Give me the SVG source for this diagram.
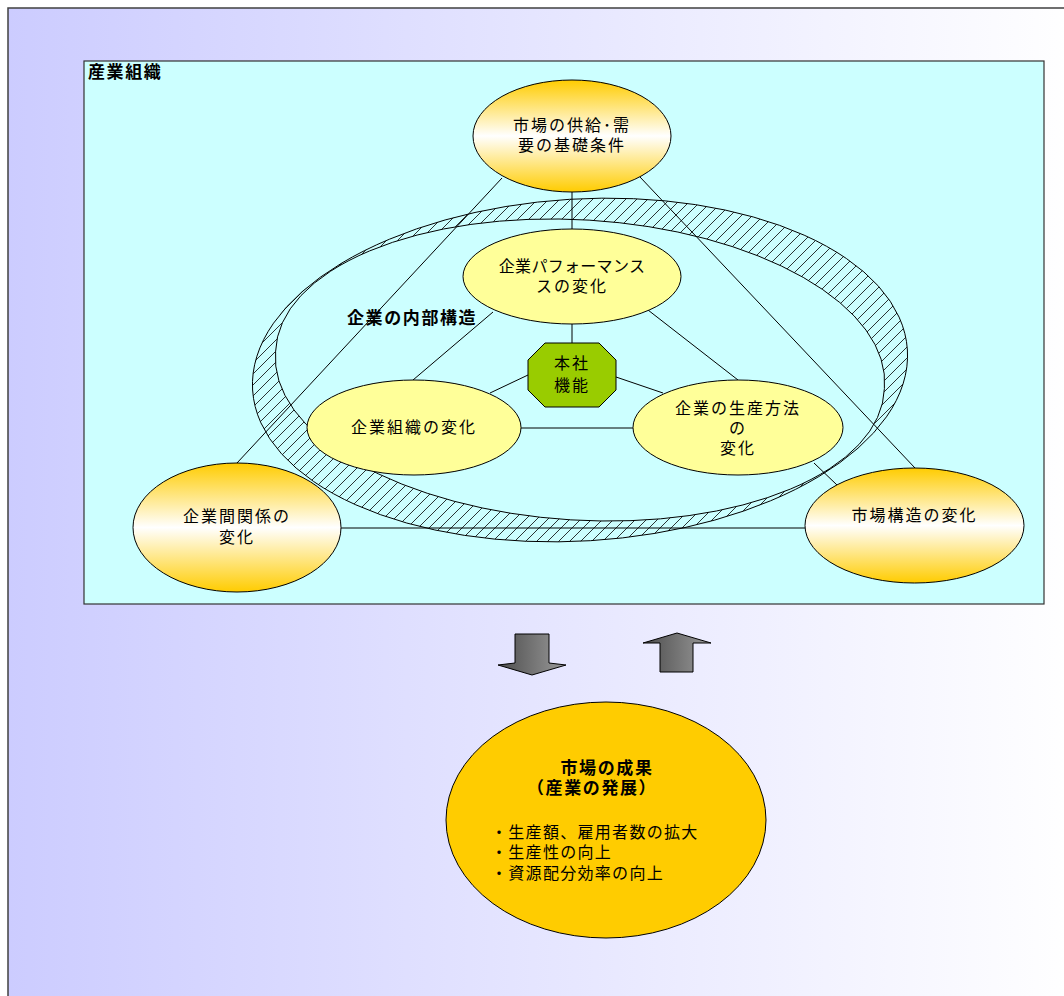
<svg xmlns="http://www.w3.org/2000/svg" width="1064" height="996" viewBox="0 0 1064 996">
<defs>
<linearGradient id="bg" x1="0" y1="0" x2="1" y2="0">
<stop offset="0" stop-color="#ccccff"/>
<stop offset="1" stop-color="#ffffff"/>
</linearGradient>
<linearGradient id="gold" x1="0" y1="0" x2="0" y2="1">
<stop offset="0" stop-color="#ffcc00"/>
<stop offset="0.5" stop-color="#ffffff"/>
<stop offset="1" stop-color="#ffcc00"/>
</linearGradient>
<linearGradient id="gray" x1="0" y1="0" x2="1" y2="0">
<stop offset="0" stop-color="#4d4d4d"/>
<stop offset="1" stop-color="#9a9a9a"/>
</linearGradient>
<pattern id="hatch" patternUnits="userSpaceOnUse" width="11" height="11">
<path d="M-2,2 L2,-2 M0,11 L11,0 M9,13 L13,9" stroke="#000" stroke-width="0.8"/>
</pattern>
</defs>
<style>
.t{font-family:"Noto Sans CJK JP","Noto Sans CJK SC",sans-serif;font-size:16px;fill:#000;text-anchor:middle;letter-spacing:2px}
.b{font-family:"Noto Sans CJK JP","Noto Sans CJK SC",sans-serif;font-size:17px;font-weight:bold;fill:#000;letter-spacing:1.6px}
.s{font-family:"Noto Sans CJK JP","Noto Sans CJK SC",sans-serif;font-size:16px;fill:#000;letter-spacing:1.3px}
.ln{stroke:#000;stroke-width:1;fill:none}
.gold{fill:url(#gold);stroke:#000;stroke-width:1}
.yel{fill:#ffff99;stroke:#000;stroke-width:1}
.arr{fill:url(#gray);stroke:#000;stroke-width:1}
</style>
<rect x="8" y="8" width="1070" height="1000" fill="url(#bg)" stroke="#404040" stroke-width="1.5"/>
<g id="industry-box">
<rect x="84" y="61" width="960" height="543" fill="#ccffff" stroke="#333" stroke-width="1.2"/>
<text class="b" x="88" y="78">産業組織</text>
</g>
<g id="connectors">
<line class="ln" x1="502" y1="178" x2="237" y2="463"/>
<line class="ln" x1="640" y1="177" x2="915" y2="468"/>
<line class="ln" x1="340" y1="528" x2="805" y2="528"/>
<line class="ln" x1="572" y1="192" x2="572" y2="229"/>
<line class="ln" x1="572" y1="324" x2="572" y2="343"/>
<line class="ln" x1="528" y1="375" x2="490" y2="393"/>
<line class="ln" x1="616" y1="377" x2="663" y2="393"/>
<line class="ln" x1="521" y1="428" x2="633" y2="428"/>
<line class="ln" x1="493" y1="312" x2="413" y2="380"/>
<line class="ln" x1="648" y1="310" x2="738" y2="380"/>
<line class="ln" x1="814" y1="463" x2="837" y2="485"/>
</g>
<g id="inner-structure">
<path fill="url(#hatch)" fill-rule="evenodd" stroke="#000" stroke-width="1" d="M907.4,350 A328,171 -3.5 1 1 252.6,390 A328,171 -3.5 1 1 907.4,350 Z M884.4,388.6 A305,148 3.5 1 1 275.6,351.4 A305,148 3.5 1 1 884.4,388.6 Z"/>
<text class="b" x="347" y="324">企業の内部構造</text>
</g>
<g id="node-supply-demand">
<ellipse class="gold" cx="572" cy="136" rx="99" ry="56"/>
<text class="t" x="572" y="131">市場の供給･需<tspan x="572" dy="20">要の基礎条件</tspan></text>
</g>
<g id="node-performance">
<ellipse class="yel" cx="572" cy="276.5" rx="109" ry="47.5"/>
<text class="t" x="572" y="272"><tspan style="letter-spacing:0.3px">企業パフォーマンス</tspan><tspan x="572" dy="20">スの変化</tspan></text>
</g>
<g id="node-hq">
<polygon points="545,343 599,343 616,360 616,390 599,407 545,407 528,390 528,360" fill="#99cc00" stroke="#000" stroke-width="1"/>
<text class="t" x="572" y="369">本社<tspan x="572" dy="22">機能</tspan></text>
</g>
<g id="node-organization">
<ellipse class="yel" cx="414" cy="427.5" rx="107" ry="47.5"/>
<text class="t" x="414" y="433">企業組織の変化</text>
</g>
<g id="node-production">
<ellipse class="yel" cx="738" cy="427.5" rx="105" ry="47.5"/>
<text class="t" x="738" y="414">企業の生産方法<tspan x="738" dy="20">の</tspan><tspan x="738" dy="20">変化</tspan></text>
</g>
<g id="node-inter-firm">
<ellipse class="gold" cx="237" cy="527.5" rx="104" ry="64.5"/>
<text class="t" x="237" y="522">企業間関係の<tspan x="237" dy="21">変化</tspan></text>
</g>
<g id="node-market-structure">
<ellipse class="gold" cx="914.5" cy="525.5" rx="109.5" ry="57.5"/>
<text class="t" x="914.5" y="521">市場構造の変化</text>
</g>
<g id="arrows">
<polygon class="arr" points="515,634 549,634 549,663 566,665 532,675 498,665 515,663"/>
<polygon class="arr" points="660,672 693,672 693,643 711,643 677,633 643,643 660,643"/>
</g>
<g id="node-outcome">
<ellipse cx="606" cy="820" rx="160" ry="118" fill="#ffcc00" stroke="#000" stroke-width="1"/>
<text class="b" x="607" y="774"><tspan x="607" text-anchor="middle">市場の成果</tspan><tspan x="527" dy="20">（産業の発展）</tspan></text>
<text class="s" x="491" y="838">・生産額、雇用者数の拡大<tspan x="491" dy="20">・生産性の向上</tspan><tspan x="491" dy="21">・資源配分効率の向上</tspan></text>
</g>
</svg>
